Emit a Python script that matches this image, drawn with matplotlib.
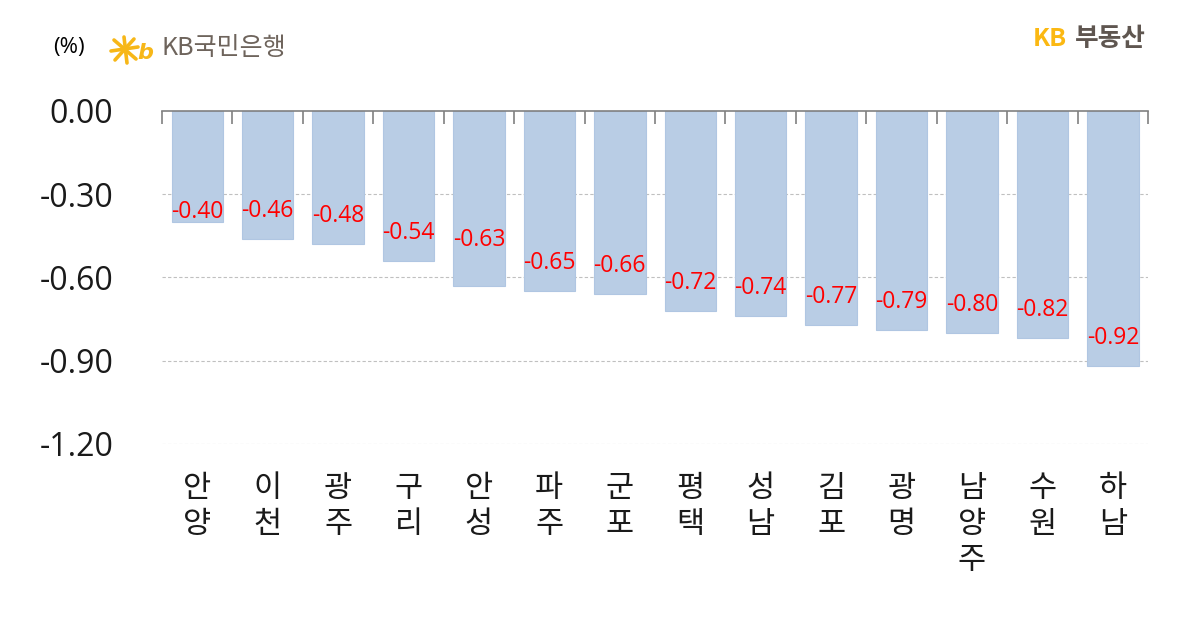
import matplotlib
matplotlib.use('Agg')
import matplotlib.pyplot as plt
from matplotlib.lines import Line2D
import numpy as np

plt.rcParams['font.family'] = ['Noto Sans CJK KR', 'DejaVu Sans']

# data
regions = ['안양', '이천', '광주', '구리', '안성', '파주', '군포',
           '평택', '성남', '김포', '광명', '남양주', '수원', '하남']
changes = [-0.40, -0.46, -0.48, -0.54, -0.63, -0.65, -0.66,
           -0.72, -0.74, -0.77, -0.79, -0.80, -0.82, -0.92]
yticks = [0.0, -0.3, -0.6, -0.9, -1.2]

W, H = 1200, 620
fig = plt.figure(figsize=(12, 6.2), dpi=100)
ax = fig.add_axes([0.135, 0.284, 0.8217, 0.537])

x = np.arange(len(regions))
ax.bar(x, changes, width=0.73, color='#b9cde5', edgecolor='#b0c6e2',
       linewidth=0.8, zorder=2)

# value labels (a couple were nudged by hand in the original)
lab_off = [-10, -28, -28, -28, -46, -28, -28, -28, -28, -28, -28, -28, -28, -28]
for i, v in enumerate(changes):
    ax.annotate('%.2f' % v, xy=(i, v), xytext=(0, -lab_off[i]),
                textcoords='offset pixels', ha='center', va='center',
                color='#ff0000', fontsize=16.5, family='Open Sans', zorder=3)

# region names, one syllable per line
for i, r in enumerate(regions):
    ax.annotate('\n'.join(r), xy=(i, 0), xycoords=('data', 'axes fraction'),
                xytext=(0, -29), textcoords='offset pixels',
                ha='center', va='top', fontsize=22, linespacing=1.22,
                color='#1a1a1a')

ax.set_xlim(-0.5, len(regions) - 0.5)
ax.set_ylim(-1.2, 0)
ax.set_yticks(yticks)
ax.set_yticklabels(['%.2f' % t for t in yticks], fontsize=23,
                   family='Open Sans', color='#1a1a1a')
ax.tick_params(axis='y', length=0, pad=35)

ax.xaxis.tick_top()
ax.set_xticks(np.arange(-0.5, len(regions), 1.0))
ax.set_xticklabels([])
ax.tick_params(axis='x', direction='in', length=9, width=1.2, color='#808080')

for g in yticks[1:]:
    ax.axhline(g, color='#c0c0c0', lw=0.8, ls=(0, (3, 2)), zorder=1)

for s in ['left', 'right', 'bottom']:
    ax.spines[s].set_visible(False)
ax.spines['top'].set_color('#808080')
ax.spines['top'].set_linewidth(1.2)

# header
fig.text(53 / W, 1 - 48 / H, '(%)', fontsize=16, va='center', ha='left',
         family='Open Sans')

# small KB star logo
star = '#f7b718'
for (x0, y0, x1, y1) in [(124, 37, 127, 63), (111, 51, 138, 47),
                         (114, 40, 136, 59), (115, 60, 134, 39)]:
    fig.add_artist(Line2D([x0 / W, x1 / W], [1 - y0 / H, 1 - y1 / H],
                          color=star, lw=2.6, solid_capstyle='round'))
fig.text(137 / W, 1 - 53 / H, 'b', fontsize=16, color=star, va='center',
         ha='left', family='DejaVu Sans', fontweight='bold', style='italic')
fig.text(161 / W, 1 - 48 / H, 'KB국민은행', fontsize=18, color='#6e645c',
         va='center', ha='left')

fig.text(1033 / W, 1 - 39 / H, 'KB', fontsize=18, color='#fbb812',
         va='center', ha='left', fontweight='bold')
fig.text(1075 / W, 1 - 39 / H, '부동산', fontsize=18.5, color='#5f5650',
         va='center', ha='left', fontweight='bold')

fig.savefig('out.png', dpi=100)
